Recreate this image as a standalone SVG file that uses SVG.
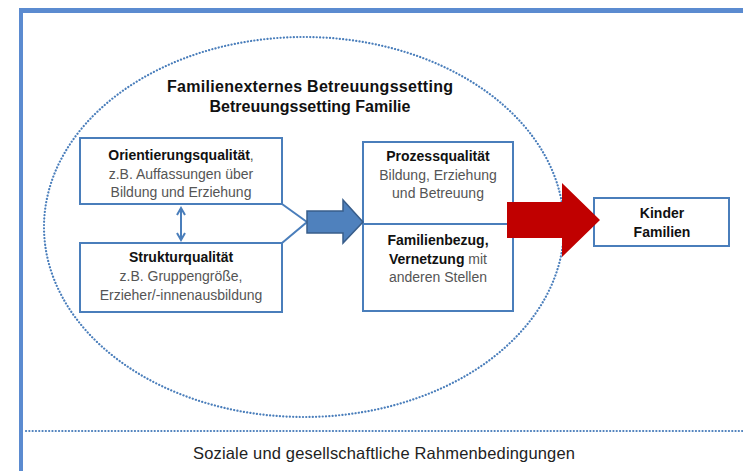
<svg xmlns="http://www.w3.org/2000/svg" width="743" height="471" viewBox="0 0 743 471">
<style>
.box{fill:#fff;stroke:#4a7ebb;stroke-width:2}
.dot{fill:none;stroke:#4a7ebb;stroke-width:2.2;stroke-dasharray:0.1 3.2;stroke-linecap:round}
.t{font-family:"Liberation Sans",Arial,sans-serif;font-size:14px;fill:#555;text-anchor:middle}
.b{font-weight:bold;fill:#111}
.ttl{font-family:"Liberation Sans",Arial,sans-serif;font-size:16px;font-weight:bold;fill:#111;text-anchor:middle}
.line{stroke:#4a7ebb;stroke-width:2;fill:none}
</style>
<defs>
<marker id="ah" viewBox="0 0 10 10" refX="8" refY="5" markerWidth="5" markerHeight="5" orient="auto-start-reverse">
<path d="M1,1 L8,5 L1,9" fill="none" stroke="#4a7ebb" stroke-width="2"/>
</marker>
</defs>
<rect width="743" height="471" fill="#fff"/>
<g id="frame">
<rect x="19" y="8" width="724" height="5" fill="#5b8bd0"/>
<rect x="19" y="8" width="4" height="463" fill="#5b8bd0"/>
<line class="dot" x1="26" y1="431" x2="743" y2="431"/>
</g>
<g id="setting">
<ellipse class="dot" cx="304" cy="227" rx="260" ry="190"/>
<text class="ttl" x="310" y="92" textLength="286">Familienexternes Betreuungssetting</text>
<text class="ttl" x="310" y="112">Betreuungssetting Familie</text>
</g>
<g id="orientierung">
<rect class="box" x="80" y="138" width="202" height="66"/>
<text class="t" x="181" y="160"><tspan class="b">Orientierungsqualität</tspan>,</text>
<text class="t" x="181" y="179">z.B. Auffassungen über</text>
<text class="t" x="181" y="197">Bildung und Erziehung</text>
</g>
<g id="struktur">
<rect class="box" x="80" y="243" width="202" height="69"/>
<text class="t b" x="181" y="262">Strukturqualität</text>
<text class="t" x="181" y="281">z.B. Gruppengröße,</text>
<text class="t" x="181" y="300">Erzieher/-innenausbildung</text>
</g>
<g id="prozess">
<rect class="box" x="363" y="142" width="150" height="169"/>
<line class="line" x1="363" y1="224" x2="513" y2="224"/>
<text class="t b" x="438" y="161">Prozessqualität</text>
<text class="t" x="438" y="180">Bildung, Erziehung</text>
<text class="t" x="438" y="198">und Betreuung</text>
<text class="t b" x="438" y="245">Familienbezug,</text>
<text class="t" x="438" y="264"><tspan class="b">Vernetzung</tspan> mit</text>
<text class="t" x="438" y="282">anderen Stellen</text>
</g>
<g id="kinder">
<rect class="box" x="594" y="198" width="135" height="48"/>
<text class="t b" x="662" y="218">Kinder</text>
<text class="t b" x="662" y="237">Familien</text>
</g>
<g id="connectors">
<line class="line" x1="181" y1="208" x2="181" y2="240" marker-start="url(#ah)" marker-end="url(#ah)"/>
<polyline class="line" points="282,204 307,222 282,243"/>
<path d="M307,211 H343 V200 L363,222 L343,243 V233 H307 Z" fill="#4f81bd" stroke="#385d8a" stroke-width="1.5"/>
<path d="M507,202 H562 V183 L600,220 L562,257 V238 H507 Z" fill="#c00000"/>
</g>
<g id="rahmen">
<text x="384" y="459" textLength="382" style="font-family:'Liberation Sans',Arial,sans-serif;font-size:16.5px;fill:#222;text-anchor:middle">Soziale und gesellschaftliche Rahmenbedingungen</text>
</g>
</svg>
